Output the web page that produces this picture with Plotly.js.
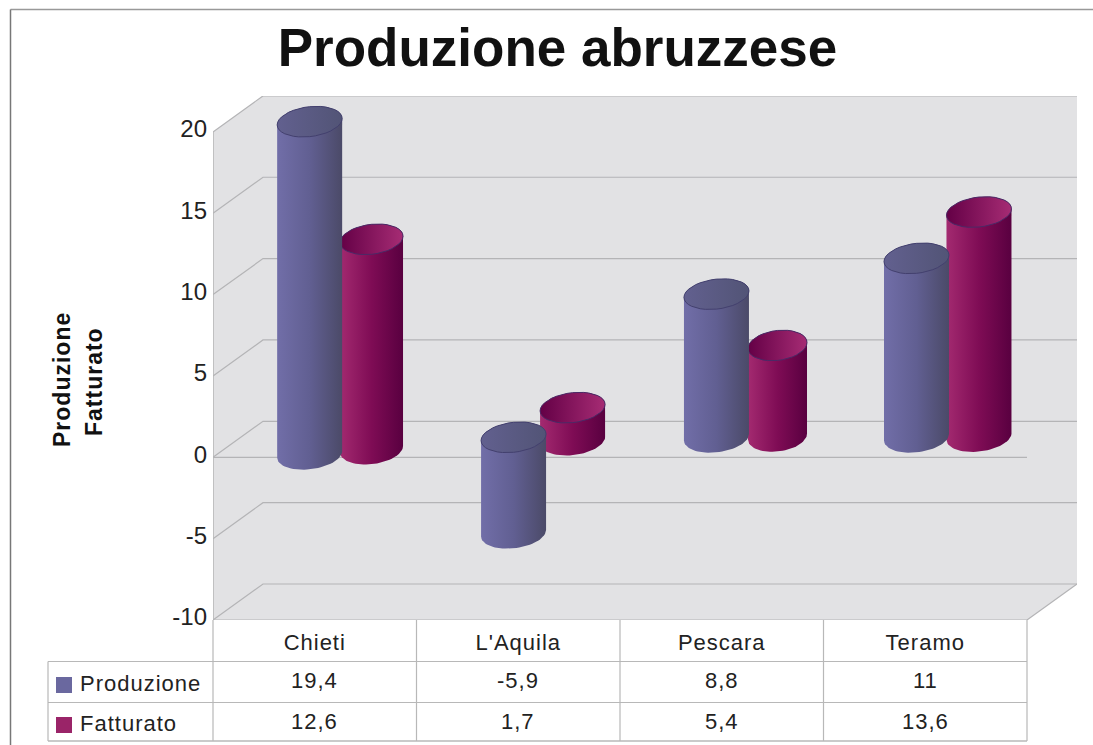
<!DOCTYPE html>
<html>
<head>
<meta charset="utf-8">
<script src="https://cdn.plot.ly/plotly-3.0.1.min.js"></script>
<style>
html,body{margin:0;padding:0;background:#fff}
#chart{width:1093px;height:745px}
.xtick text{letter-spacing:1px}
.ytick text{translate:-5px -3px}
.annotation-text{letter-spacing:1px}
</style>
</head>
<body>
<div id="chart"></div>
<script>
const categories = ["Chieti", "L'Aquila", "Pescara", "Teramo"];
const produzione = [19.4, -5.9, 8.8, 11];
const fatturato = [12.6, 1.7, 5.4, 13.6];
const baseProduzione = [-1.05, 0, 0, 0];
const baseFatturato = [-0.3, -0.3, -0.2, -0.2];
const yTicks = [-10, -5, 0, 5, 10, 15, 20];

// Chart frame, in pixels of the page
const W = 1093, H = 745;
const L = 213, R = 1077, T = 96, B = 620;
const UNIT_X = 203.5, UNIT_Y = 16.27;
const DEPTH_X = (263 - 213) / UNIT_X, DEPTH_Y = 36 / UNIT_Y;
const XMAX = (R - L) / UNIT_X, YMIN = -10, YMAX = YMIN + (B - T) / UNIT_Y;
const FRONT = 4;
const GRID = '#b4b4b6';

const px = v => v / UNIT_X, py = v => v / UNIT_Y;
const paperY = p => (B - p) / (B - T);
const paperX = p => (p - L) / (R - L);

function polyTrace(name, x, y, extra) {
  return Object.assign({type:'scatter', mode:'lines', name, x, y, showlegend:false,
    hoverinfo:'skip', line:{width:0}}, extra);
}

const traces = [];
// wall
traces.push(polyTrace('wall',
  [0, DEPTH_X, XMAX, XMAX, FRONT, 0, 0],
  [20, 20 + DEPTH_Y, 20 + DEPTH_Y, -10 + DEPTH_Y, -10, -10, 20],
  {fill:'toself', fillcolor:'#e2e2e4'}));
// grid
yTicks.forEach(v => {
  traces.push({type:'scatter', mode:'lines', name:'grid ' + v, showlegend:false, hoverinfo:'skip',
    x:[0, DEPTH_X, XMAX], y:[v, v + DEPTH_Y, v + DEPTH_Y], line:{color:GRID, width:1.2}});
});
traces.push({type:'scatter', mode:'lines', name:'wall edge', showlegend:false, hoverinfo:'skip',
  x:[0, 0], y:[-10, 20], line:{color:GRID, width:1.5}});
traces.push({type:'scatter', mode:'lines', name:'floor edge', showlegend:false, hoverinfo:'skip',
  x:[0, FRONT, XMAX], y:[-10, -10, -10 + DEPTH_Y], line:{color:GRID, width:1.2}});
traces.push({type:'scatter', mode:'lines', name:'zero line', showlegend:false, hoverinfo:'skip',
  x:[0, FRONT], y:[0, 0], line:{color:GRID, width:1.2}});

// cylinders, defined in data units through the plot's own axes
const RX = 32.5, RY = 15, TILT = 0.1, N = 36;
function ellipse(cx, cyVal, from, to, rx) {
  const xs = [], ys = [];
  for (let i = 0; i <= N; i++) {
    const t = from + (to - from) * i / N;
    const dx = rx * Math.cos(t);
    xs.push(cx + px(dx));
    ys.push(cyVal + py(RY * Math.sin(t) + TILT * dx));
  }
  return [xs, ys];
}
function cylinder(name, cx, top, bottom, depthPx, rx, body, cap, capLine) {
  const d = py(depthPx);
  const hi = Math.max(top, bottom) + d, lo = Math.min(top, bottom) + d;
  const [ax, ay] = ellipse(cx, lo, Math.PI, 2 * Math.PI, rx); // front of lower rim
  const [bx, by] = ellipse(cx, hi, 0, Math.PI, rx);           // upper rim, far side
  traces.push(polyTrace(name + ' body', ax.concat(bx), ay.concat(by), {fill:'toself',
    fillcolor:body[0],
    fillgradient:{type:'horizontal', colorscale:[[0, body[0]], [0.5, body[1]], [1, body[2]]]}}));
  const [ex, ey] = ellipse(cx, hi, 0, 2 * Math.PI, rx);
  traces.push(polyTrace(name + ' cap', ex, ey, {fill:'toself', fillcolor:cap[0],
    fillgradient:{type:'horizontal', colorscale:[[0, cap[0]], [1, cap[1]]]},
    line:{color:capLine, width:1}}));
}
const BODY_P = ['#716ea8', '#615f92', '#4b4a68'], CAP_P = ['#62608f', '#525476'];
const BODY_F = ['#a32a70', '#7f0c55', '#590040'], CAP_F = ['#640046', '#a62c74'];
const DEPTH_P = [20, 20, 20, 20], DEPTH_F = [13, 22, 24, 24];
const OFFSET_P = [0.475, 0.477, 0.474, 0.457], OFFSET_F = [0.779, 0.767, 0.774, 0.764];
const RX_F = [31.5, 32.5, 29.5, 32.5];
categories.forEach((c, i) => {
  cylinder('Fatturato ' + c, i + OFFSET_F[i], fatturato[i], baseFatturato[i], DEPTH_F[i], RX_F[i], BODY_F, CAP_F, '#4a2a66');
});
categories.forEach((c, i) => {
  cylinder('Produzione ' + c, i + OFFSET_P[i], produzione[i], baseProduzione[i], DEPTH_P[i], RX, BODY_P, CAP_P, '#43406e');
});

// data table
const rows = [661.5, 702.5, 741];
const shapes = [];
function tableLine(x0, y0, x1, y1, w) {
  shapes.push({type:'line', xref:'paper', yref:'paper', x0:paperX(x0), x1:paperX(x1),
    y0:paperY(y0), y1:paperY(y1), line:{color:'#b8b8b8', width:w || 1.2}});
}
const TL = 48, TM = 213, TR = 1027;
rows.forEach((r, i) => tableLine(TL, r, TR, r, i === 2 ? 1.6 : 1.2));
tableLine(TL, rows[0], TL, rows[2]);
for (let i = 0; i <= categories.length; i++) {
  const xp = TM + (TR - TM) * i / categories.length;
  tableLine(xp, B, xp, rows[2]);
}
// outer frame
tableLine(10.5, 9.5, W, 9.5, 1.5); shapes[shapes.length - 1].line.color = '#999999';
tableLine(10.5, 9.5, 10.5, H, 1.5); shapes[shapes.length - 1].line.color = '#777777';
// legend swatches
[[677, '#6a689f'], [717, '#9a2468']].forEach(([y, col]) => {
  shapes.push({type:'rect', xref:'paper', yref:'paper', x0:paperX(56), x1:paperX(72),
    y0:paperY(y), y1:paperY(y + 16), fillcolor:col, line:{width:0}});
});

const fmt = v => String(v).replace('.', ',');
const tableFont = {family:'Liberation Sans, Arial, sans-serif', size:22, color:'#222222'};
const annotations = [];
[[produzione, 680], [fatturato, 721]].forEach(([arr, y]) => {
  arr.forEach((v, i) => annotations.push({text:fmt(v), xref:'x', yref:'paper', x:i + 0.5, y:paperY(y),
    showarrow:false, xanchor:'center', yanchor:'middle', font:tableFont}));
});
[['Produzione', 683], ['Fatturato', 723]].forEach(([t, y]) => {
  annotations.push({text:t, xref:'paper', yref:'paper', x:paperX(78), y:paperY(y), showarrow:false,
    xanchor:'left', yanchor:'middle', font:tableFont});
});
[['Produzione', 62, 380], ['Fatturato', 94, 382]].forEach(([t, x, y]) => {
  annotations.push({text:'<b>' + t + '</b>', xref:'paper', yref:'paper', x:paperX(x), y:paperY(y),
    showarrow:false, textangle:-90, xanchor:'center', yanchor:'middle',
    font:{family:'Liberation Sans, Arial, sans-serif', size:23, color:'#111111'}});
});

const layout = {
  width:W, height:H,
  margin:{l:L, r:W - R, t:T, b:H - B, pad:0},
  paper_bgcolor:'#ffffff', plot_bgcolor:'#ffffff',
  showlegend:false, hovermode:false,
  title:{text:'<b>Produzione abruzzese</b>', x:557.5 / W, xanchor:'center', xref:'container',
    y:1 - 47 / H, yanchor:'middle', yref:'container',
    font:{family:'Liberation Sans, Arial, sans-serif', size:53, color:'#111111'}},
  xaxis:{range:[0, XMAX], tickmode:'array', tickvals:categories.map((c, i) => i + 0.5), ticktext:categories,
    showgrid:false, zeroline:false, showline:false, ticks:'', ticklabelstandoff:7, fixedrange:true,
    tickfont:tableFont},
  yaxis:{range:[YMIN, YMAX], tickmode:'array', tickvals:yTicks, ticktext:yTicks.map(String),
    showgrid:false, zeroline:false, showline:false, ticks:'', fixedrange:true,
    tickfont:{family:'Liberation Sans, Arial, sans-serif', size:24, color:'#222222'}},
  shapes, annotations
};
Plotly.newPlot('chart', traces, layout, {displayModeBar:false, staticPlot:true, responsive:false});
</script>
</body>
</html>
